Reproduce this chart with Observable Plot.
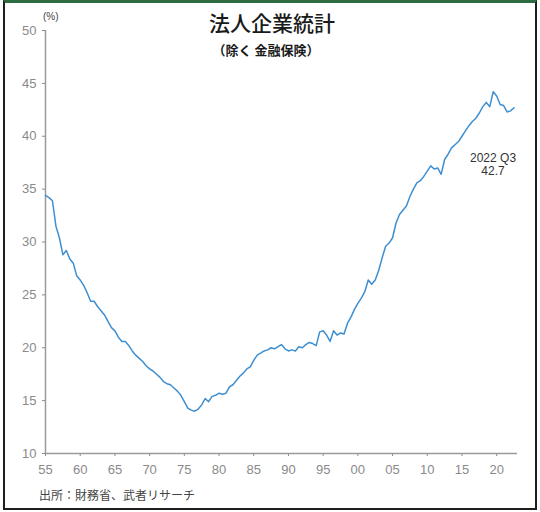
<!DOCTYPE html>
<html><head><meta charset="utf-8">
<script src="https://cdn.jsdelivr.net/npm/d3@7"></script>
<script src="https://cdn.jsdelivr.net/npm/@observablehq/plot@0.6"></script>
<style>
body{margin:0;background:#fff;}
#wrap{position:relative;width:540px;height:512px;overflow:hidden;background:#fff;font-family:"Liberation Sans",Arial,sans-serif;}
#border{position:absolute;left:3px;top:0;width:530px;height:505px;border:2px solid #1e1e1e;border-top:3px solid #2e6b40;pointer-events:none;}
.t{position:absolute;white-space:nowrap;line-height:1;}
</style></head><body>
<div id="wrap">
  <div id="chart" style="position:absolute;left:0;top:0"></div>
  <div class="t" style="left:0;width:544px;text-align:center;top:12px;font-family:'Noto Sans CJK JP';font-weight:500;font-size:21px;color:#1a1a1a;">法人企業統計</div>
  <div class="t" style="left:0;width:532px;text-align:center;top:43px;font-family:'Noto Sans CJK JP';font-weight:bold;font-size:13px;color:#1a1a1a;">（除く 金融保険）</div>
  <div class="t" style="left:43px;top:12px;font-size:10px;color:#444;">(%)</div>
  <div class="t" style="left:39px;top:489px;font-family:'Noto Sans CJK JP';font-size:12px;color:#444;">出所：財務省、武者リサーチ</div>
  <div id="border"></div>
</div>
<script>
// Equity ratio (%), half-yearly from 1955
const ratio = [
  34.4,34.2,33.9,31.5,30.4,28.8,29.2,28.4,28.0,26.8,
  26.4,25.9,25.2,24.4,24.4,23.9,23.5,23.1,22.5,21.9,
  21.6,21.0,20.6,20.6,20.2,19.7,19.3,19.0,18.7,18.3,
  18.0,17.8,17.5,17.2,16.8,16.6,16.5,16.2,15.9,15.5,
  14.9,14.3,14.1,14.0,14.2,14.6,15.2,14.9,15.4,15.5,
  15.7,15.6,15.7,16.3,16.5,16.9,17.3,17.6,18.0,18.2,
  18.8,19.3,19.5,19.7,19.8,20.0,19.9,20.1,20.3,19.9,
  19.7,19.8,19.7,20.1,20.0,20.3,20.5,20.4,20.2,21.5,
  21.6,21.2,20.6,21.6,21.2,21.4,21.3,22.3,22.9,23.6,
  24.2,24.7,25.3,26.4,26.0,26.4,27.3,28.5,29.6,29.9,
  30.4,31.8,32.6,33.0,33.4,34.3,35.0,35.6,35.8,36.2,
  36.7,37.2,36.9,37.0,36.4,37.8,38.3,38.9,39.2,39.5,
  40.0,40.5,41.0,41.4,41.7,42.2,42.8,43.2,42.8,44.2,
  43.8,43.0,42.9,42.3,42.4,42.7
];
const startYear = 1955;
const xTicks = [1955,1960,1965,1970,1975,1980,1985,1990,1995,2000,2005,2010,2015,2020];
const xTickLabels = ["55","60","65","70","75","80","85","90","95","00","05","10","15","20"];
const yTicks = [10,15,20,25,30,35,40,45,50];
const lastLabel = ["2022 Q3", "42.7"];

const data = ratio.map((v, i) => ({t: startYear + i / 2, v}));
const last = data[data.length - 1];

const chart = Plot.plot({
  width: 540, height: 512,
  marginLeft: 45, marginRight: 23, marginTop: 30, marginBottom: 59,
  style: {fontFamily: "'Liberation Sans', Arial, sans-serif", fontSize: "13px", background: "transparent"},
  x: {domain: [1955, 2023], label: null},
  y: {domain: [10, 50], label: null},
  marks: [
    Plot.axisX({ticks: xTicks, tickFormat: d => xTickLabels[xTicks.indexOf(d)], tickSize: 3, tickPadding: 8, stroke: "#888", color: "#8a8a8a", label: null}),
    Plot.axisY({ticks: yTicks, tickSize: 3, tickPadding: 6, stroke: "#888", color: "#8a8a8a", label: null}),
    Plot.ruleY([10], {stroke: "#9a9a9a", strokeWidth: 1.5}),
    Plot.ruleX([1955], {stroke: "#9a9a9a", strokeWidth: 1.5}),
    Plot.line(data, {x: "t", y: "v", stroke: "#3d8fd1", strokeWidth: 1.5}),
    Plot.text([last], {x: "t", y: "v", text: () => lastLabel.join("\n"), dx: -21, dy: 44, lineAnchor: "top", fill: "#333", fontSize: 12, lineHeight: 1.15})
  ]
});
document.getElementById("chart").appendChild(chart);
</script>
</body></html>
